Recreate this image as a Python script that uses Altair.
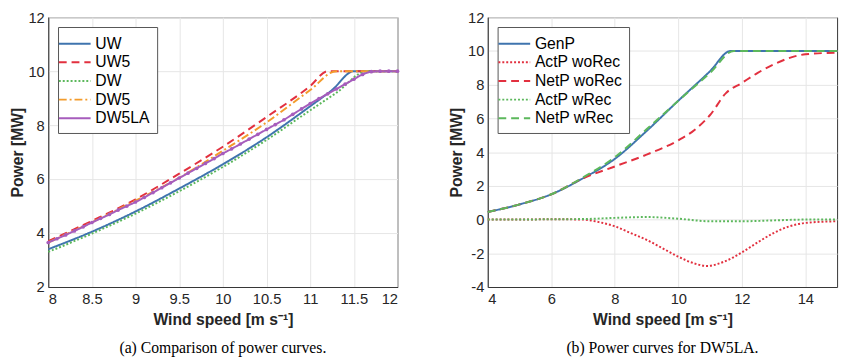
import altair as alt
import pandas as pd

# ---------- Panel (a) data ----------
uw_x = [8, 8.5, 9, 9.5, 10, 10.5, 11, 11.25, 11.5, 12]
uw_y = [3.4, 4.05, 4.8, 5.65, 6.55, 7.55, 8.7, 9.3, 10.0, 10.0]
uw5_x = [8, 8.5, 9, 9.5, 10, 10.5, 11, 11.2, 12]
uw5_y = [3.7, 4.45, 5.25, 6.2, 7.2, 8.3, 9.45, 10.0, 10.0]
dw_x = [8, 8.5, 9, 9.5, 10, 10.5, 11, 11.3, 11.65, 12]
dw_y = [3.3, 3.98, 4.72, 5.55, 6.45, 7.45, 8.55, 9.2, 10.0, 10.0]
dw5_x = [8, 8.5, 9, 9.5, 10, 10.5, 11, 11.3, 12]
dw5_y = [3.65, 4.4, 5.2, 6.05, 7.05, 8.1, 9.3, 10.0, 10.0]
dw5la_x = [8.0, 8.1, 8.2, 8.3, 8.4, 8.5, 8.6, 8.7, 8.8, 8.9, 9.0, 9.1, 9.2, 9.3,
           9.4, 9.5, 9.6, 9.7, 9.8, 9.9, 10.0, 10.1, 10.2, 10.3, 10.4, 10.5,
           10.6, 10.7, 10.8, 10.9, 11.0, 11.1, 11.2, 11.3, 11.4, 11.5, 11.6,
           11.7, 11.8, 11.9, 12.0]
dw5la_y = [3.65, 3.79, 3.93, 4.08, 4.23, 4.39, 4.54, 4.69, 4.85, 5.0, 5.15, 5.32,
           5.5, 5.68, 5.86, 6.04, 6.22, 6.4, 6.58, 6.76, 6.95, 7.12, 7.3, 7.48,
           7.66, 7.84, 8.02, 8.2, 8.4, 8.6, 8.8, 8.98, 9.16, 9.34, 9.52, 9.7,
           9.88, 9.98, 10.0, 10.0, 10.0]

# ---------- Panel (b) data ----------
genp_x = [4, 5, 6, 7, 8, 9, 10, 11, 11.65, 12, 13, 14, 15]
genp_y = [0.45, 0.9, 1.5, 2.45, 3.6, 5.25, 7.05, 8.8, 10, 10, 10, 10, 10]
actwo_x = [4, 5, 6, 7, 7.5, 8, 8.5, 9, 9.5, 10, 10.5, 10.9, 11.5, 12, 12.5, 13, 13.5, 14, 15]
actwo_y = [0, 0, 0.02, 0, -0.15, -0.4, -0.8, -1.2, -1.7, -2.2, -2.6, -2.75, -2.45,
           -1.95, -1.35, -0.8, -0.4, -0.2, -0.1]
netwo_x = [4, 5, 6, 7, 8, 9, 10, 10.5, 11, 11.5, 12, 12.5, 13, 14, 15]
netwo_y = [0.45, 0.9, 1.5, 2.45, 3.15, 3.85, 4.7, 5.3, 6.2, 7.5, 8.1, 8.7, 9.2, 9.8, 9.9]
actw_x = [4, 5, 6, 7, 8, 9, 10, 11, 12, 13, 14, 15]
actw_y = [0, 0, 0.02, 0.03, 0.1, 0.15, 0.05, -0.1, -0.1, -0.05, 0, 0]
netw_x = [4, 5, 6, 7, 8, 9, 10, 11, 11.75, 12, 13, 14, 15]
netw_y = [0.45, 0.9, 1.5, 2.5, 3.7, 5.35, 7.05, 8.7, 10, 10, 10, 10, 10]

BLUE = "#3f74ae"
RED = "#e2303f"
GREEN = "#5cb85c"
ORANGE = "#f39c2c"
PURPLE = "#a65cbc"


def frame(name, xs, ys):
    return pd.DataFrame({"series": name, "x": xs, "y": ys})


dfa = pd.concat([
    frame("UW", uw_x, uw_y),
    frame("UW5", uw5_x, uw5_y),
    frame("DW", dw_x, dw_y),
    frame("DW5", dw5_x, dw5_y),
    frame("DW5LA", dw5la_x, dw5la_y),
], ignore_index=True)

dfb = pd.concat([
    frame("GenP", genp_x, genp_y),
    frame("ActP woRec", actwo_x, actwo_y),
    frame("NetP woRec", netwo_x, netwo_y),
    frame("ActP wRec", actw_x, actw_y),
    frame("NetP wRec", netw_x, netw_y),
], ignore_index=True)

a_names = ["UW", "UW5", "DW", "DW5", "DW5LA"]
a_colors = [BLUE, RED, GREEN, ORANGE, PURPLE]
a_dash = [[1, 0], [8, 5], [2, 2], [8, 3, 2, 3], [1, 0]]

b_names = ["GenP", "ActP woRec", "NetP woRec", "ActP wRec", "NetP wRec"]
b_colors = [BLUE, RED, RED, GREEN, GREEN]
b_dash = [[1, 0], [2, 2], [8, 5], [2, 2], [8, 5]]

W, H = 356, 275

legend_cfg = dict(
    orient="top-left", title=None, fillColor="white", strokeColor="#555",
    padding=7, offset=10, symbolType="M-1.8,0H1.8", symbolSize=324,
    symbolStrokeWidth=2, labelFontSize=16, labelFont="Liberation Sans",
    labelColor="#000", rowPadding=1, labelOffset=11,
)

NEG_EXPR = "datum.value < 0 ? '-' + abs(datum.value) : '' + datum.value"


def xaxis(values, fmt):
    return alt.Axis(values=values, format=fmt, title="Wind speed [m s⁻¹]",
                    grid=True, ticks=False, labelPadding=5, titlePadding=5)


def yaxis(values):
    return alt.Axis(values=values, title="Power [MW]", grid=True, ticks=False,
                    labelPadding=4, titlePadding=3, labelExpr=NEG_EXPR)


# ---------- Panel (a) ----------
xa = alt.X("x:Q", scale=alt.Scale(domain=[8, 12], nice=False),
           axis=xaxis([8, 8.5, 9, 9.5, 10, 10.5, 11, 11.5, 12], ".1~f"))
ya = alt.Y("y:Q", scale=alt.Scale(domain=[2, 12], nice=False),
           axis=yaxis([2, 4, 6, 8, 10, 12]))

lines_a = alt.Chart(dfa).mark_line(strokeWidth=2, interpolate="monotone").encode(
    x=xa, y=ya,
    color=alt.Color("series:N", scale=alt.Scale(domain=a_names, range=a_colors),
                    sort=a_names, legend=alt.Legend(**legend_cfg)),
    strokeDash=alt.StrokeDash("series:N", scale=alt.Scale(domain=a_names, range=a_dash),
                              sort=a_names, legend=alt.Legend(**legend_cfg)),
)
pts_a = alt.Chart(dfa[dfa.series == "DW5LA"]).mark_point(
    filled=True, size=14, color=PURPLE, opacity=1).encode(x=xa, y=ya)

panel_a = alt.layer(lines_a, pts_a).properties(
    width=W, height=H,
    title=alt.TitleParams("(a) Comparison of power curves.", orient="bottom",
                          font="Liberation Serif", fontSize=16, fontWeight="normal",
                          color="#000", offset=13),
)

# ---------- Panel (b) ----------
xb = alt.X("x:Q", scale=alt.Scale(domain=[4, 15], nice=False),
           axis=xaxis([4, 6, 8, 10, 12, 14], "d"))
yb = alt.Y("y:Q", scale=alt.Scale(domain=[-4, 12], nice=False),
           axis=yaxis([-4, -2, 0, 2, 4, 6, 8, 10, 12]))

lines_b = alt.Chart(dfb).mark_line(strokeWidth=2, interpolate="monotone").encode(
    x=xb, y=yb,
    color=alt.Color("series:N", scale=alt.Scale(domain=b_names, range=b_colors),
                    sort=b_names, legend=alt.Legend(**legend_cfg)),
    strokeDash=alt.StrokeDash("series:N", scale=alt.Scale(domain=b_names, range=b_dash),
                              sort=b_names, legend=alt.Legend(**legend_cfg)),
)

panel_b = lines_b.properties(
    width=W, height=H,
    title=alt.TitleParams("(b) Power curves for DW5LA.", orient="bottom",
                          font="Liberation Serif", fontSize=16, fontWeight="normal",
                          color="#000", offset=13),
)

chart = alt.hconcat(panel_a, panel_b, spacing=46).resolve_scale(
    color="independent", strokeDash="independent"
).properties(
    padding={"left": 0, "top": -2, "right": 0, "bottom": 0}
).configure_view(
    stroke="#333", strokeWidth=1
).configure_axis(
    labelFont="Liberation Sans", labelFontSize=15, labelColor="#262626",
    titleFont="Liberation Sans", titleFontSize=16, titleFontWeight="bold",
    titleColor="#262626", gridColor="#e6e6e6", gridWidth=1,
    domainColor="#333", domain=True,
)

chart.save("out.html", embed_options={"renderer": "svg", "actions": False})
